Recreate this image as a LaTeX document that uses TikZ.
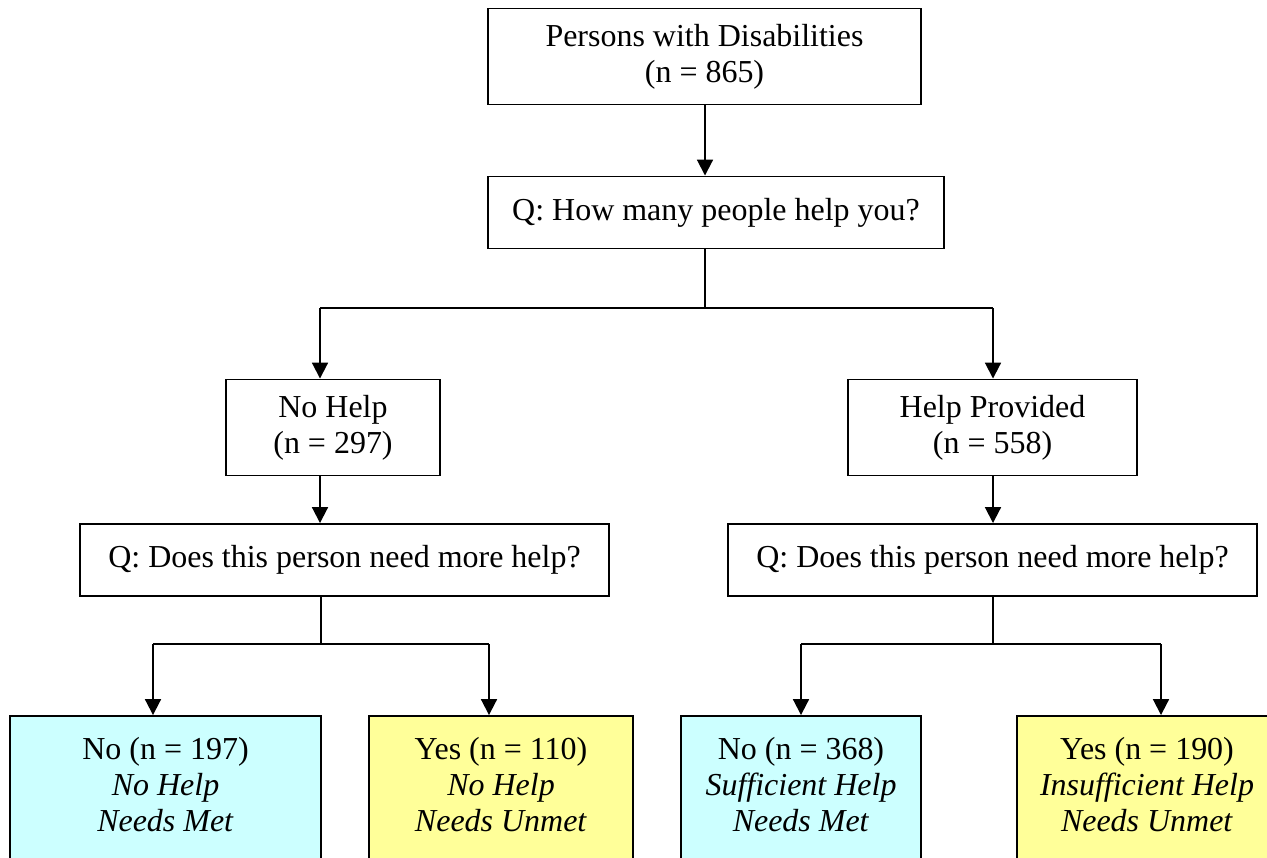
\documentclass[tikz,border=0pt]{standalone}
\usepackage{fontspec}
\setmainfont{Liberation Serif}
\usetikzlibrary{arrows.meta}
\definecolor{metblue}{HTML}{CCFFFF}
\definecolor{unmetyellow}{HTML}{FFFF99}

\begin{document}
\begin{tikzpicture}[x=0.02cm,y=-0.02cm,
    box/.style={draw=black,line width=1.1pt,rectangle,inner sep=0pt,align=center,
      font=\fontsize{18.2}{20.5}\selectfont},
    arr/.style={line width=1.1pt,-{Triangle[width=9pt,length=9pt]}},
    lnk/.style={line width=1.1pt}]
    \useasboundingbox (0,0) rectangle (1267,858);
    \node[box,minimum width=8.66cm,minimum height=1.92cm] (all) at (704.5,56.5) {Persons with Disabilities\\(n = 865)};
    \node[box,minimum width=9.12cm,minimum height=1.44cm] (howmany) at (716,212.5) {Q: How many people help you?};
    \node[box,minimum width=4.28cm,minimum height=1.92cm] (nohelp) at (333,427.5) {No Help\\(n = 297)};
    \node[box,minimum width=5.78cm,minimum height=1.92cm] (helped) at (992.5,427.5) {Help Provided\\(n = 558)};
    \node[box,minimum width=10.58cm,minimum height=1.44cm] (needL) at (344.5,560) {Q: Does this person need more help?};
    \node[box,minimum width=10.58cm,minimum height=1.44cm] (needR) at (992.5,560) {Q: Does this person need more help?};
    % outcome boxes run off the bottom edge
    \node[box,fill=metblue,minimum width=6.22cm,minimum height=3.44cm] (lmet) at (165.5,802) {No (n = 197)\\\textit{No Help}\\\textit{Needs Met}\\\mbox{}};
    \node[box,fill=unmetyellow,minimum width=5.28cm,minimum height=3.44cm] (lunmet) at (501,802) {Yes (n = 110)\\\textit{No Help}\\\textit{Needs Unmet}\\\mbox{}};
    \node[box,fill=metblue,minimum width=4.80cm,minimum height=3.44cm] (rmet) at (801,802) {No (n = 368)\\\textit{Sufficient Help}\\\textit{Needs Met}\\\mbox{}};
    \node[box,fill=unmetyellow,minimum width=5.20cm,minimum height=3.44cm] (runmet) at (1147,802) {Yes (n = 190)\\\textit{Insufficient Help}\\\textit{Needs Unmet}\\\mbox{}};
    % branch points
    \coordinate (s0) at (705,308);
    \coordinate (s0l) at (320,308);
    \coordinate (s0r) at (993,308);
    \coordinate (sl) at (321,644);
    \coordinate (sll) at (153,644);
    \coordinate (slr) at (489,644);
    \coordinate (sr) at (993,644);
    \coordinate (srl) at (801,644);
    \coordinate (srr) at (1161,644);
    \draw[arr] (all.south -| s0) -- (howmany.north -| s0);
    \draw[lnk] (howmany.south -| s0) -- (s0);
    \draw[lnk] (s0l) -- (s0r);
    \draw[arr] (s0l) -- (s0l |- nohelp.north);
    \draw[arr] (s0r) -- (s0r |- helped.north);
    \draw[arr] (nohelp.south -| s0l) -- (needL.north -| s0l);
    \draw[arr] (helped.south -| s0r) -- (needR.north -| s0r);
    \draw[lnk] (needL.south -| sl) -- (sl);
    \draw[lnk] (sll) -- (slr);
    \draw[arr] (sll) -- (sll |- lmet.north);
    \draw[arr] (slr) -- (slr |- lunmet.north);
    \draw[lnk] (needR.south -| sr) -- (sr);
    \draw[lnk] (srl) -- (srr);
    \draw[arr] (srl) -- (srl |- rmet.north);
    \draw[arr] (srr) -- (srr |- runmet.north);
\end{tikzpicture}
\end{document}
